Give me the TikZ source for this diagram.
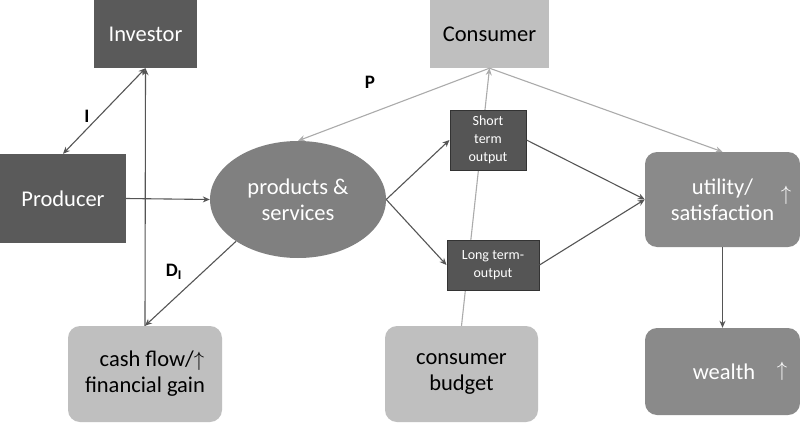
\documentclass[tikz,border=0pt]{standalone}
\usepackage{fontspec}
\setmainfont{Carlito}
\usetikzlibrary{arrows.meta,shapes.geometric}
\pgfdeclarelayer{background}
\pgfsetlayers{background,main}
\definecolor{darkbox}{HTML}{5A5A5A}
\definecolor{midbox}{HTML}{808080}
\definecolor{utilbox}{HTML}{8A8A8A}
\definecolor{lightbox}{HTML}{BFBFBF}
\definecolor{smallbox}{HTML}{555555}
\definecolor{darkline}{HTML}{555555}
\definecolor{lightline}{HTML}{ABABAB}
\tikzset{
  bigtext/.style={font=\fontsize{22.5}{26}\selectfont, align=center},
  darkrect/.style={rectangle, fill=darkbox, text=white, bigtext, inner sep=0pt},
  lightrect/.style={rectangle, fill=lightbox, text=black, bigtext, inner sep=0pt},
  roundlight/.style={rectangle, rounded corners=12pt, fill=lightbox, text=black, bigtext, inner sep=0pt},
  roundmid/.style={rectangle, rounded corners=12pt, fill=utilbox, text=white, bigtext, inner sep=0pt},
  smallrect/.style={rectangle, fill=smallbox, draw=black!80, line width=1pt, text=white, font=\fontsize{14}{18}\selectfont, align=center, inner sep=0pt},
  uparr/.style={text=white, font=\fontsize{22}{26}\selectfont, inner sep=0pt},
  darkarrow/.style={draw=darkline, line width=1.1pt, -{Stealth[length=7pt,width=6pt]}},
  lightarrow/.style={draw=lightline, line width=1.1pt, -{Stealth[length=7pt,width=6pt]}},
  lab/.style={font=\fontsize{19}{22}\selectfont\bfseries, text=black, inner sep=0pt}
}
\begin{document}
\begin{tikzpicture}[x=1pt,y=-1pt]
\useasboundingbox (0,0) rectangle (800,423);
% nodes
\node[darkrect, minimum width=103pt, minimum height=68pt] (inv) at (145.5,34) {Investor};
\node[lightrect, minimum width=119pt, minimum height=68pt] (con) at (489.5,34) {Consumer};
\node[darkrect, minimum width=126pt, minimum height=89pt] (pro) at (63,198.5) {Producer};
\node[ellipse, fill=midbox, text=white, bigtext, minimum width=176pt, minimum height=117pt, inner sep=0pt] (ps) at (298,199.5) {products \&\\services};
\node[smallrect, minimum width=76pt, minimum height=60pt] (st) at (488,140) {Short\\term\\output};
\node[smallrect, minimum width=92pt, minimum height=50pt] (lt) at (493,265) {Long term-\\output};
\node[roundmid, minimum width=155pt, minimum height=95pt] (ut) at (722.5,199.5) {utility/\\satisfaction};
\node[uparr] (utarr) at (786,195) {$\uparrow$};
\node[roundmid, minimum width=155pt, minimum height=87pt] (we) at (722.5,371.5) {};
\node[text=white, bigtext, inner sep=0pt] (wet) at (724,372) {wealth};
\node[uparr] (wearr) at (782,371) {$\uparrow$};
\node[roundlight, minimum width=154pt, minimum height=96pt] (cf) at (145,374) {\hspace*{14pt}cash flow/$\uparrow$\\financial gain};
\node[roundlight, minimum width=153pt, minimum height=96pt] (cb) at (461.5,374) {consumer\\budget};
% connector behind small boxes
\begin{pgfonlayer}{background}
\fill[white] (0,0) rectangle (800,423);
\draw[lightarrow] (cb.north) -- (con.south);
\end{pgfonlayer}
% connectors
\draw[darkline, line width=1.1pt, {Stealth[length=7pt,width=6pt]}-{Stealth[length=7pt,width=6pt]}] (pro.north) -- (inv.south);
\draw[darkarrow] (cf.north) -- (inv.south);
\draw[darkarrow] (pro.east) -- (ps.west);
\draw[darkarrow] (ps.214) -- (cf.north);
\draw[lightarrow] (con.south) -- (ps.north);
\draw[lightarrow] (con.south) -- (ut.north);
\draw[darkarrow] (ps.east) -- (st.west);
\draw[darkarrow] (ps.east) -- (lt.west);
\draw[darkarrow] (st.east) -- (ut.west);
\draw[darkarrow] (lt.east) -- (ut.west);
\draw[darkarrow] (ut.south) -- (we.north);
% labels
\node[lab] (lI) at (87,116) {I};
\node[lab] (lP) at (370,82) {P};
\node[lab] (lD) at (174,272) {D\textsubscript{I}};
\end{tikzpicture}
\end{document}
